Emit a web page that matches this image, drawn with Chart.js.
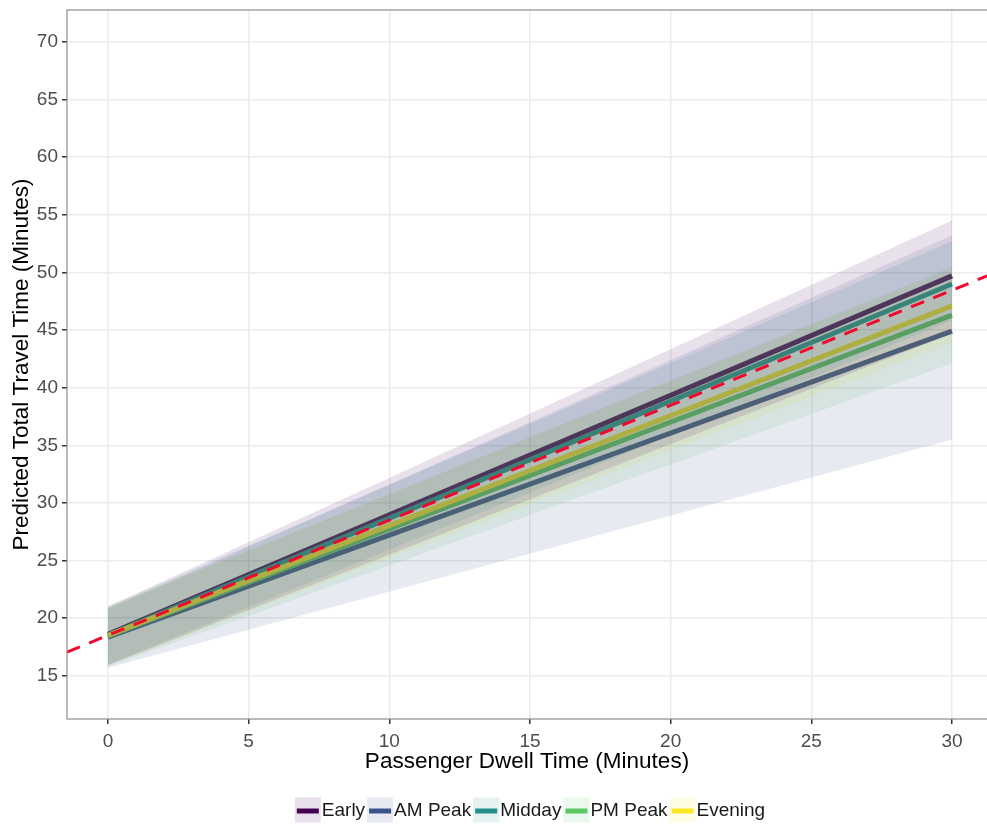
<!DOCTYPE html>
<html>
<head>
<meta charset="utf-8">
<script src="https://cdn.jsdelivr.net/npm/chart.js@4/dist/chart.umd.min.js"></script>
<style>
  html, body { margin: 0; padding: 0; background: #fff; }
  #wrap { width: 987px; height: 825px; }
</style>
</head>
<body>
<div id="wrap"><canvas id="chart" width="987" height="825"></canvas></div>
<script>
// Predicted travel time by time of day

const periods = ['Early', 'AM Peak', 'Midday', 'PM Peak', 'Evening'];
const dwellX = [0, 30];

// fitted lines (value at dwell 0 and dwell 30)
const earlyFit   = [18.6, 49.7];
const amPeakFit  = [18.35, 44.9];
const middayFit  = [18.5, 49.0];
const pmPeakFit  = [18.45, 46.3];
const eveningFit = [18.5, 47.1];

// confidence ribbons
const earlyLow   = [15.9, 44.7];
const earlyHigh  = [21.0, 54.5];
const amPeakLow  = [15.7, 35.5];
const amPeakHigh = [20.8, 53.2];
const middayLow  = [16.0, 45.8];
const middayHigh = [21.0, 52.7];
const pmPeakLow  = [15.8, 42.1];
const pmPeakHigh = [20.9, 50.5];
const eveningLow = [15.9, 43.9];
const eveningHigh = [21.0, 50.3];

// red dashed reference line across the panel
const refX = [-1.46, 31.25];
const refY = [17.05, 49.7];

const xTicks = [0, 5, 10, 15, 20, 25, 30];
const yTicks = [15, 20, 25, 30, 35, 40, 45, 50, 55, 60, 65, 70];

const fits  = [earlyFit, amPeakFit, middayFit, pmPeakFit, eveningFit];
const lows  = [earlyLow, amPeakLow, middayLow, pmPeakLow, eveningLow];
const highs = [earlyHigh, amPeakHigh, middayHigh, pmPeakHigh, eveningHigh];

const colours = ['#440154', '#3B528B', '#21908C', '#5DC863', '#FDE725'];
const ribbonAlpha = 0.12;
const fontFamily = '"Liberation Sans", Arial, sans-serif';

function hexToRgba(hex, a) {
    const n = parseInt(hex.slice(1), 16);
    return `rgba(${(n >> 16) & 255}, ${(n >> 8) & 255}, ${n & 255}, ${a})`;
}

function toPoints(xs, ys) {
    return xs.map((x, i) => ({ x: x, y: ys[i] }));
}

const datasets = [];

// lines first (drawn underneath the ribbons); higher order = drawn sooner,
// so Early goes down first and Evening ends on top like in ggplot
periods.forEach((name, i) => {
    datasets.push({
        label: name,
        data: toPoints(dwellX, fits[i]),
        borderColor: colours[i],
        borderWidth: 5,
        pointRadius: 0,
        fill: false,
        order: 3 + (periods.length - i) * 0.1
    });
});

// ribbons: lower edge + upper edge filled to previous dataset
periods.forEach((name, i) => {
    datasets.push({
        label: name + ' low',
        data: toPoints(dwellX, lows[i]),
        borderColor: 'rgba(0,0,0,0)',
        borderWidth: 0,
        pointRadius: 0,
        fill: false,
        order: 2
    });
    datasets.push({
        label: name + ' high',
        data: toPoints(dwellX, highs[i]),
        borderColor: 'rgba(0,0,0,0)',
        borderWidth: 0,
        pointRadius: 0,
        backgroundColor: hexToRgba(colours[i], ribbonAlpha),
        fill: '-1',
        order: 2
    });
});

datasets.push({
    label: 'reference',
    data: toPoints(refX, refY),
    borderColor: '#f2072d',
    borderWidth: 3,
    borderDash: [14, 10],
    pointRadius: 0,
    fill: false,
    order: 1
});

// panel border + legend drawn by hand to look like the ggplot original
const extras = {
    id: 'extras',
    afterDraw(chart) {
        const ctx = chart.ctx;
        const a = chart.chartArea;
        ctx.save();
        ctx.strokeStyle = '#8c8c8c';
        ctx.lineWidth = 1.2;
        ctx.strokeRect(a.left, a.top, a.right - a.left + 5, a.bottom - a.top);

        // legend
        ctx.font = '19px ' + fontFamily;
        ctx.textBaseline = 'middle';
        const boxW = 26, boxH = 25, gap = 1, spacing = 2;
        const widths = periods.map(p => boxW + gap + ctx.measureText(p).width + spacing);
        const total = widths.reduce((s, w) => s + w, 0) - spacing;
        let x = 530 - total / 2;
        const cy = 810;
        periods.forEach((p, i) => {
            ctx.fillStyle = hexToRgba(colours[i], ribbonAlpha);
            ctx.fillRect(x, cy - boxH / 2, boxW, boxH);
            ctx.strokeStyle = colours[i];
            ctx.lineWidth = 5;
            ctx.beginPath();
            ctx.moveTo(x + 2, cy + 1);
            ctx.lineTo(x + boxW - 2, cy + 1);
            ctx.stroke();
            ctx.fillStyle = '#1a1a1a';
            ctx.fillText(p, x + boxW + gap, cy + 1);
            x += widths[i];
        });
        ctx.restore();
    }
};

new Chart(document.getElementById('chart'), {
    type: 'line',
    data: { datasets: datasets },
    options: {
        responsive: false,
        animation: false,
        layout: { padding: { top: 10, left: 0, right: 0, bottom: 0 } },
        plugins: {
            legend: { display: false },
            tooltip: { enabled: false }
        },
        scales: {
            x: {
                type: 'linear',
                min: -1.457,
                max: 31.245,
                afterBuildTicks: s => { s.ticks = xTicks.map(v => ({ value: v })); },
                afterFit: s => { s.height = 106; s.paddingLeft = 0; s.paddingRight = 0; },
                grid: { color: '#ebebeb', lineWidth: 1.5, tickColor: '#333', tickLength: 5 },
                border: { display: false },
                ticks: {
                    color: '#4d4d4d',
                    padding: 6,
                    maxRotation: 0,
                    font: { size: 19, family: fontFamily }
                },
                title: {
                    display: true,
                    text: 'Passenger Dwell Time (Minutes)',
                    color: '#000',
                    font: { size: 22.5, family: fontFamily },
                    padding: { top: 0, bottom: 49.5 }
                }
            },
            y: {
                type: 'linear',
                min: 11.244,
                max: 72.776,
                afterBuildTicks: s => { s.ticks = yTicks.map(v => ({ value: v })); },
                afterFit: s => { s.width = 67; s.paddingTop = 0; s.paddingBottom = 0; },
                grid: { color: '#ebebeb', lineWidth: 1.5, tickColor: '#333', tickLength: 5 },
                border: { display: false },
                ticks: {
                    color: '#4d4d4d',
                    padding: 4,
                    font: { size: 19, family: fontFamily }
                },
                title: {
                    display: true,
                    text: 'Predicted Total Travel Time (Minutes)',
                    color: '#000',
                    font: { size: 22.5, family: fontFamily },
                    padding: { top: 8.5, bottom: 0 }
                }
            }
        }
    },
    plugins: [extras]
});
</script>
</body>
</html>
